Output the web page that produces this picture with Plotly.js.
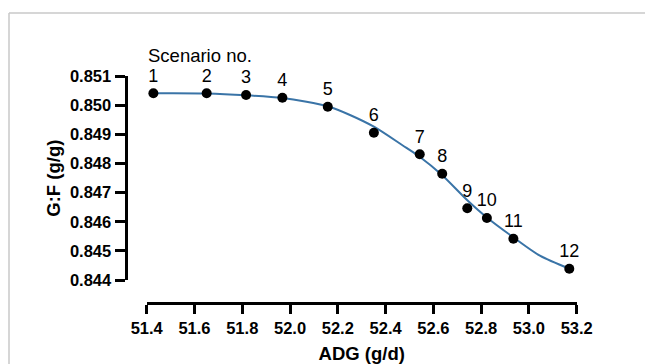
<!DOCTYPE html>
<html>
<head>
<meta charset="utf-8">
<script src="https://cdn.plot.ly/plotly-3.0.1.min.js"></script>
<style>html,body{margin:0;padding:0;background:#fff;}#chart{width:646px;height:364px;}</style>
</head>
<body>
<div id="chart"></div>
<script>
// Scenario points
const scenarioLabels = ['1','2','3','4','5','6','7','8','9','10','11','12'];
const adg = [51.428, 51.651, 51.816, 51.968, 52.158, 52.351, 52.543, 52.637, 52.742, 52.824, 52.935, 53.169];
const gf  = [0.850416, 0.850416, 0.850357, 0.850265, 0.849955, 0.849062, 0.848320, 0.847653, 0.846464, 0.846131, 0.845419, 0.844388];

// Fitted curve
const fitAdg = [51.428, 51.651, 51.816, 51.968, 52.063, 52.167, 52.251, 52.351, 52.469, 52.544, 52.636, 52.741, 52.824, 52.933, 53.046, 53.169];
const fitGf  = [0.850416, 0.850409, 0.850347, 0.850254, 0.850134, 0.849945, 0.849670, 0.849268, 0.848639, 0.848227, 0.847608, 0.846749, 0.846148, 0.845478, 0.844835, 0.844388];

const xTicks = [51.4, 51.6, 51.8, 52.0, 52.2, 52.4, 52.6, 52.8, 53.0, 53.2];
const xTickText = ['51.4','51.6','51.8','52.0','52.2','52.4','52.6','52.8','53.0','53.2'];
const yTicks = [0.844, 0.845, 0.846, 0.847, 0.848, 0.849, 0.850, 0.851];
const yTickText = ['0.844','0.845','0.846','0.847','0.848','0.849','0.850','0.851'];

const FONT = 'Arial, "Liberation Sans", Helvetica, sans-serif';

const W = 646, H = 364;
const mL = 100, mR = 40, mT = 50, mB = 40;
const pw = W - mL - mR, ph = H - mT - mB;
const px = v => (v - mL) / pw;
const py = v => (H - mB - v) / ph;

const traces = [
  {
    x: fitAdg, y: fitGf, type: 'scatter', mode: 'lines',
    line: {color: '#3a74a7', width: 2, shape: 'spline', smoothing: 0.8},
    hoverinfo: 'skip', showlegend: false, cliponaxis: false
  },
  {
    x: adg, y: gf, type: 'scatter', mode: 'markers+text',
    text: scenarioLabels, textposition: 'top center',
    textfont: {family: FONT, size: 18, color: '#000'},
    marker: {color: '#000', size: 10},
    showlegend: false, cliponaxis: false
  }
];

const layout = {
  width: W, height: H,
  margin: {l: mL, r: mR, t: mT, b: mB, pad: 0},
  paper_bgcolor: '#fff', plot_bgcolor: 'rgba(0,0,0,0)',
  font: {family: FONT, color: '#000'},
  showlegend: false,
  xaxis: {
    domain: [px(146.7), px(576.7)],
    range: [51.4, 53.2],
    anchor: 'free', position: py(302.7),
    showline: true, linecolor: '#000', linewidth: 3,
    ticks: 'outside', ticklen: 9, tickwidth: 3, tickcolor: '#000',
    tickvals: xTicks, ticktext: xTickText,
    tickfont: {family: FONT, size: 16.5, color: '#000', weight: 'bold'},
    showgrid: false, zeroline: false, automargin: false,
    title: {text: '<b>ADG (g/d)</b>', font: {family: FONT, size: 18.5, color: '#000'}, standoff: 17}
  },
  yaxis: {
    domain: [py(280), py(76.3)],
    range: [0.844, 0.851],
    anchor: 'free', position: px(125.5),
    showline: true, linecolor: '#000', linewidth: 3,
    ticks: 'outside', ticklen: 10, tickwidth: 3, tickcolor: '#000',
    tickvals: yTicks, ticktext: yTickText,
    tickfont: {family: FONT, size: 16.5, color: '#000', weight: 'bold'},
    showgrid: false, zeroline: false, automargin: false,
    title: {text: '<b>G:F (g/g)</b>', font: {family: FONT, size: 18.5, color: '#000'}, standoff: 3}
  },
  annotations: [
    {text: 'Scenario no.', xref: 'paper', yref: 'paper', x: px(146), y: py(55),
     xanchor: 'left', yanchor: 'middle', showarrow: false,
     font: {family: FONT, size: 18.5, color: '#000'}}
  ],
  shapes: [
    {type: 'line', xref: 'paper', yref: 'paper', x0: px(9), x1: px(9), y0: py(364), y1: py(13),
     line: {color: '#c8c8c8', width: 1.5}},
    {type: 'line', xref: 'paper', yref: 'paper', x0: px(9), x1: px(645), y0: py(13), y1: py(13),
     line: {color: '#c8c8c8', width: 1.5}}
  ]
};

Plotly.newPlot('chart', traces, layout, {displayModeBar: false, staticPlot: true});
</script>
</body>
</html>
